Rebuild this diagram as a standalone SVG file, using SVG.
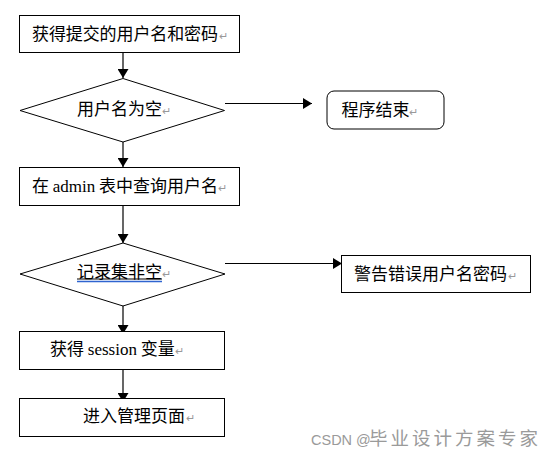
<svg xmlns="http://www.w3.org/2000/svg" width="556" height="455" viewBox="0 0 556 455">
<style>
.box{fill:#fff;stroke:#000;stroke-width:1}
.t{font-family:"Noto Sans CJK SC","Liberation Serif",sans-serif;font-size:17px;fill:#000}
.lat{font-family:"Liberation Serif",serif;font-size:17px}
.rm{font-family:"Noto Sans CJK SC",sans-serif;fill:#999;font-size:11px}
.ln{stroke:#000;stroke-width:1.2;fill:none}
</style>
<defs>
<marker id="ah" markerWidth="9" markerHeight="11" refX="9" refY="5.5" orient="auto" markerUnits="userSpaceOnUse" viewBox="0 0 9 11">
<path d="M0,0 L9,5.5 L0,11 Z" fill="#000"/>
</marker>
</defs>
<rect width="556" height="455" fill="#fff"/>
<g id="connectors">
<path class="ln" d="M123,53 V78" marker-end="url(#ah)"/>
<path class="ln" d="M123,142 V167" marker-end="url(#ah)"/>
<path class="ln" d="M123,206 V243" marker-end="url(#ah)"/>
<path class="ln" d="M123,297 V334" marker-end="url(#ah)"/>
<path class="ln" d="M123,363 V402" marker-end="url(#ah)"/>
<path class="ln" d="M225,103.5 H312" marker-end="url(#ah)"/>
<path class="ln" d="M225,263.5 H342" marker-end="url(#ah)"/>
</g>
<g id="n1">
<rect class="box" x="19.5" y="15.5" width="220" height="37"/>
<text class="t" x="32" y="40" textLength="186" lengthAdjust="spacing">获得提交的用户名和密码</text>
<text class="rm" x="219" y="40">↵</text>
</g>
<g id="n2">
<polygon class="box" points="123,78.5 224.5,110.5 123,142 20,110.5"/>
<text class="t" x="77" y="114.5">用户名为空</text>
<text class="rm" x="162" y="114.5">↵</text>
</g>
<g id="n3">
<rect class="box" x="327" y="91" width="117" height="38" rx="7"/>
<text class="t" x="341.5" y="115.5">程序结束</text>
<text class="rm" x="409" y="115.5">↵</text>
</g>
<g id="n4">
<rect class="box" x="19.5" y="167.5" width="220" height="38"/>
<text class="t" x="32" y="192">在 <tspan class="lat">admin</tspan> 表中查询用户名</text>
<text class="rm" x="218" y="192">↵</text>
</g>
<g id="n5">
<polygon class="box" points="123,243 225,274 123,306 20,274"/>
<text class="t" x="77" y="278">记录集非空</text>
<text class="rm" x="162" y="278">↵</text>
<line x1="77" y1="279" x2="162" y2="279" stroke="#000" stroke-width="1"/>
<line x1="77" y1="281.5" x2="162" y2="281.5" stroke="#2f64d0" stroke-width="1.5"/>
</g>
<g id="n6">
<rect class="box" x="341.5" y="255.5" width="189" height="37"/>
<text class="t" x="354" y="280">警告错误用户名密码</text>
<text class="rm" x="507.5" y="280">↵</text>
</g>
<g id="n7">
<rect class="box" x="19.5" y="331.5" width="205" height="38"/>
<text class="t" x="50" y="355">获得 <tspan class="lat">session</tspan> 变量</text>
<text class="rm" x="175" y="355">↵</text>
</g>
<g id="n8">
<rect class="box" x="19.5" y="398.5" width="205" height="38"/>
<text class="t" x="83" y="422">进入管理页面</text>
<text class="rm" x="185.5" y="422">↵</text>
</g>
<text id="watermark" x="311" y="444.5" fill="#9a9a9a" font-family="'Liberation Sans',sans-serif" font-size="14.5">CSDN @<tspan x="369" y="445" font-family="'Noto Sans CJK SC',sans-serif" font-size="18.5" letter-spacing="3">毕业设计方案专家</tspan></text>
</svg>
